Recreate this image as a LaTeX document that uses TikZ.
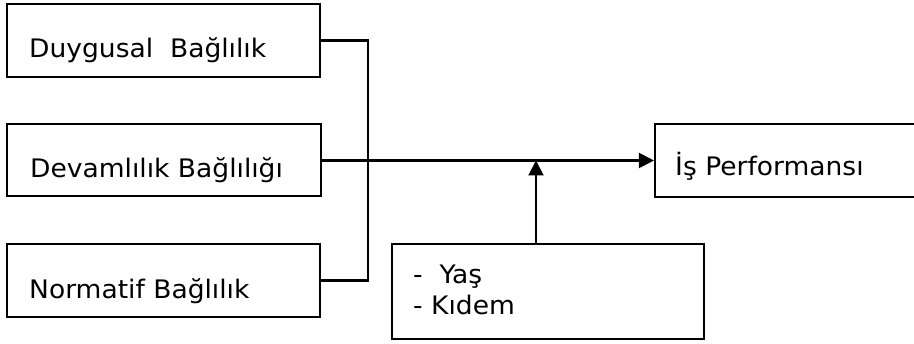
\documentclass[tikz,border=0pt]{standalone}
\usepackage{fontspec}
\setmainfont{DejaVu Sans}[FakeStretch=1.04]
\usetikzlibrary{arrows.meta}
\begin{document}
\begin{tikzpicture}[x=1pt,y=-1pt,
  box/.style={draw=black,line width=2.1pt,rectangle,inner sep=0pt},
  lbl/.style={anchor=base west,inner sep=0pt,font=\fontsize{25.5}{30}\selectfont},
  conn/.style={line width=2.1pt},
  tip/.style={-{Triangle[length=15pt,width=15pt]}}]
\useasboundingbox (0,0) rectangle (914,344);
\clip (0,0) rectangle (914,344);
\node[box,minimum width=313pt,minimum height=73pt] (b1) at (163.5,40.5) {};
\node[box,minimum width=314pt,minimum height=72pt] (b2) at (164,160) {};
\node[box,minimum width=313pt,minimum height=73pt] (b3) at (163.5,280.5) {};
\node[box,minimum width=280pt,minimum height=73pt] (b4) at (795,160.5) {};
\node[box,minimum width=312pt,minimum height=95pt] (b5) at (548,291.5) {};
\node[lbl] (t1) at (29,58) {Duygusal\ \ Bağlılık};
\node[lbl] (t2) at (30,178) {Devamlılık Bağlılığı};
\node[lbl] (t3) at (29,299) {Normatif Bağlılık};
\node[lbl] (t4) at (675,176) {İş Performansı};
\node[lbl] (t5) at (413,284) {-\ \ Yaş};
\node[lbl] (t6) at (413,315) {- Kıdem};
\coordinate (jt) at (368,40.5);
\coordinate (jb) at (368,280.5);
\coordinate (up) at (536,160.5);
\draw[conn] (b1.east) -- (jt) -- (jb) -- (b3.east);
\draw[conn,tip] (b2.east |- b4.west) -- (b4.west);
\draw[conn,tip] (up |- b5.north) -- (up);
\end{tikzpicture}
\end{document}
